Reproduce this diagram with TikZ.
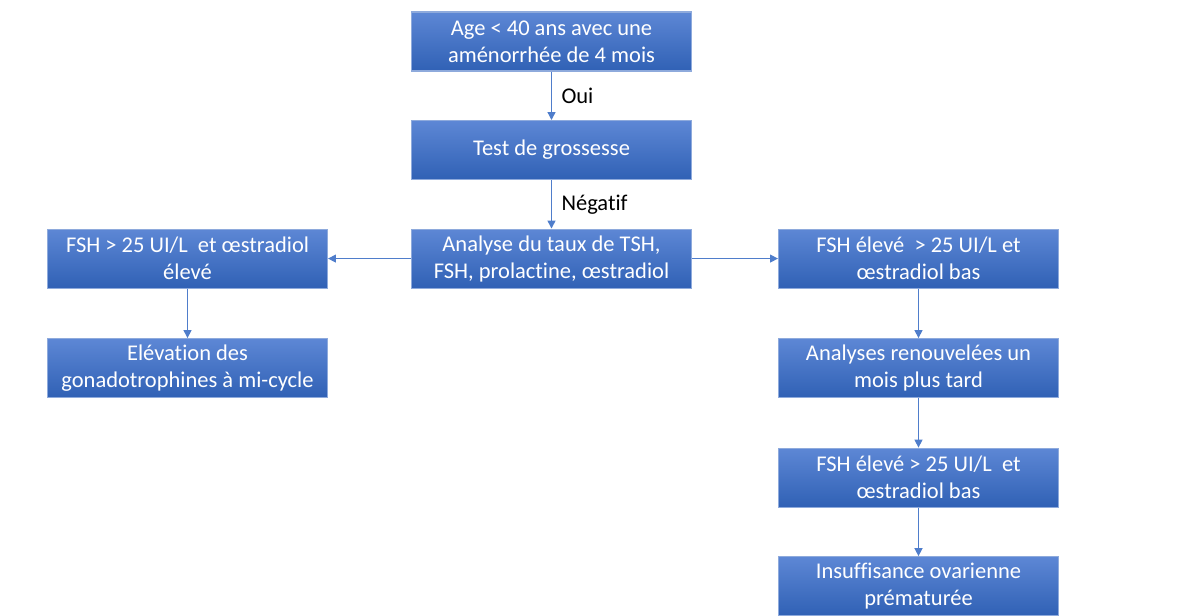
\documentclass[tikz,border=0pt]{standalone}
\usepackage{fontspec}
\setmainfont{Carlito}[Ligatures=NoCommon]
\usepackage{tikz}
\usetikzlibrary{arrows.meta, positioning}

\definecolor{boxtop}{HTML}{5D87D5}
\definecolor{boxbot}{HTML}{3061B5}
\definecolor{boxline}{HTML}{8EAADC}
\definecolor{linkblue}{HTML}{4F7DCB}

\begin{document}
\begin{tikzpicture}[
        x=0.02cm, y=-0.02cm,
        node distance = 0.97cm,
        stepbox/.style = {rectangle, draw=boxline, line width=0.6pt, top color=boxtop, bottom color=boxbot,
            text=white, align=center, minimum width=5.6cm, minimum height=1.18cm, inner sep=0pt,
            font=\fontsize{12.8}{15.4}\selectfont},
        edge/.style = {-{Triangle[length=4.5pt, width=4.5pt]}, draw=linkblue, line width=0.75pt},
        label/.style = {font=\fontsize{12.8}{15.4}\selectfont, right, xshift=2pt}
    ]
    \useasboundingbox (0,0) rectangle (1192,615);
    \clip (0,0) rectangle (1192,615);

    \node[stepbox] (age) at (551.5,41.5) {Age < 40 ans avec une\\am\'enorrh\'ee de 4 mois};
    \node[stepbox, below=of age] (test) {Test de grossesse};
    \node[stepbox, below=of test] (analyse) {Analyse du taux de TSH,\\FSH, prolactine, \oe stradiol};
    \node[stepbox, left=1.66cm of analyse] (eleve) {FSH > 25 UI/L\ \ et \oe stradiol\\\'elev\'e};
    \node[stepbox, below=0.99cm of eleve] (gonado) {El\'evation des\\gonadotrophines \`a mi-cycle};
    \node[stepbox, right=1.72cm of analyse] (bas) {FSH \'elev\'e\ \ > 25 UI/L et\\\oe stradiol bas};
    \node[stepbox, below=0.99cm of bas] (renouv) {Analyses renouvel\'ees un\\mois plus tard};
    \node[stepbox, below=0.99cm of renouv] (bas2) {FSH \'elev\'e > 25 UI/L\ \ et\\\oe stradiol bas};
    \node[stepbox, below=0.97cm of bas2] (iop) {Insuffisance ovarienne\\pr\'ematur\'ee};

    \draw[edge] (age) -- node[label] {Oui} (test);
    \draw[edge] (test) -- node[label] {N\'egatif} (analyse);
    \draw[edge] (analyse) -- (eleve);
    \draw[edge] (analyse) -- (bas);
    \draw[edge] (eleve) -- (gonado);
    \draw[edge] (bas) -- (renouv);
    \draw[edge] (renouv) -- (bas2);
    \draw[edge] (bas2) -- (iop);
\end{tikzpicture}
\end{document}
